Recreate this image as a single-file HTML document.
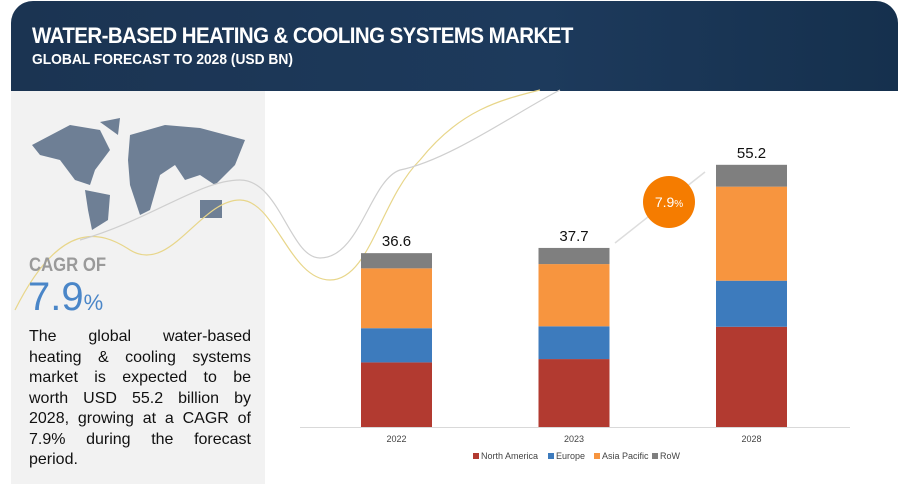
<!DOCTYPE html>
<html><head><meta charset="utf-8"><style>
body{margin:0;width:900px;height:484px;background:#fff;font-family:"Liberation Sans",sans-serif;position:relative;overflow:hidden}
#hdr{position:absolute;left:11px;top:1px;width:887px;height:90px;background:linear-gradient(90deg,#1b3452,#1d3a5c 60%,#15304d);border-radius:22px 22px 0 0}
#t1{position:absolute;left:21px;top:22px;color:#fff;font-weight:bold;font-size:22px;letter-spacing:-0.6px;transform:scaleX(0.93);transform-origin:left}
#t2{position:absolute;left:21px;top:50px;color:#fff;font-weight:bold;font-size:15px;transform:scaleX(0.92);transform-origin:left}
#left{position:absolute;left:11px;top:91px;width:254px;height:393px;background:#f2f2f2}
#cagr{position:absolute;left:29px;top:255px;color:#9a9a9a;font-size:19px;font-weight:bold;transform:scaleX(0.88);transform-origin:left}
#cv{position:absolute;left:28px;top:275px;color:#4a86c8;font-size:40px}
#cv span{font-size:22px}
#desc{position:absolute;left:29px;top:327px;width:222px;font-size:16px;line-height:20.5px;color:#111}
#desc div{text-align:justify;text-align-last:justify;white-space:nowrap;overflow:visible}
#desc div.l{text-align-last:left}
</style></head><body>
<div id="hdr">
<div id="t1">WATER-BASED HEATING &amp; COOLING SYSTEMS MARKET</div>
<div id="t2">GLOBAL FORECAST TO 2028 (USD BN)</div>
</div>
<div id="left"></div>
<svg style="position:absolute;left:0;top:0" width="900" height="484">
<path d="M32 145 L70 125 L100 130 L110 150 L95 170 L90 185 L75 180 L60 160 L40 155Z M85 190 L110 195 L108 220 L92 230 L88 210Z M100 122 L120 118 L118 135 Z M130 135 L165 125 L200 128 L245 140 L235 165 L215 185 L200 175 L185 180 L175 165 L160 175 L150 210 L140 215 L130 185 L128 160Z M200 200 L222 200 L222 218 L200 218Z" fill="#6e7f95"/>
<path d="M15 310 C60 220 100 230 130 250 C170 275 200 200 240 200 C275 200 290 280 330 280 C370 280 380 200 420 160 C460 110 500 100 540 90" stroke="#e8d68a" stroke-width="1.2" fill="none"/>
<path d="M80 240 C150 220 200 180 240 180 C280 180 290 258 320 258 C360 258 370 180 400 170 C450 160 520 110 560 90" stroke="#cfcfcf" stroke-width="1.2" fill="none"/>
</svg>
<div id="cagr">CAGR OF</div>
<div id="cv">7.9<span>%</span></div>
<div id="desc">
<div>The global water-based</div>
<div>heating &amp; cooling systems</div>
<div>market is expected to be</div>
<div>worth USD 55.2 billion by</div>
<div>2028, growing at a CAGR of</div>
<div>7.9% during the forecast</div>
<div class="l">period.</div>
</div>
<svg id="chart" style="position:absolute;left:0;top:0" width="900" height="484"></svg>
<script>
const categories=["2022","2023","2028"];
const northAmerica=[13.6,14.3,21.1];
const europe=[7.2,6.9,9.7];
const asiaPacific=[12.6,13.1,19.8];
const row=[3.2,3.4,4.6];
const totals=["36.6","37.7","55.2"];
const seriesNames=["North America","Europe","Asia Pacific","RoW"];
const colors=["#b23a30","#3d7bbd","#f7953f","#7f7f7f"];
const series=[northAmerica,europe,asiaPacific,row];
const svg=document.getElementById('chart');const NS="http://www.w3.org/2000/svg";
const baseY=427,scale=4.75,x0=361,step=177.5,bw=71;
const xs=i=>x0+i*step;const ys=v=>v*scale;
function mk(t,a){const e=document.createElementNS(NS,t);for(const k in a)e.setAttribute(k,a[k]);svg.appendChild(e);return e;}
categories.forEach((c,i)=>{let y=baseY;
series.forEach((s,j)=>{const h=ys(s[i]);y-=h;const r=mk('rect',{x:xs(i),y:y,width:bw,height:h,fill:colors[j]});

});
const t=mk('text',{x:xs(i)+bw/2,y:y-7,'text-anchor':'middle','font-size':'15','fill':'#111'});t.textContent=totals[i];


const l=mk('text',{x:xs(i)+bw/2,y:442,'text-anchor':'middle','font-size':'9','fill':'#444'});l.textContent=c;

});
const ax=mk('line',{x1:300,x2:850,y1:427.5,y2:427.5,stroke:'#d9d9d9'});


let lx=473;seriesNames.forEach((n,j)=>{const r=mk('rect',{x:lx,y:453,width:6,height:6,fill:colors[j]});


const t=mk('text',{x:lx+8,y:459,'font-size':'9','fill':'#444'});t.textContent=n;


lx+=[75,46,58,40][j];});
const ar=mk('path',{d:'M615 243 L705 172',stroke:'#ddd','stroke-width':'1.5',fill:'none'});


const ci=mk('circle',{cx:669,cy:202,r:26,fill:'#f57c00'});


const bt=mk('text',{x:669,y:207,'text-anchor':'middle','font-size':'14','fill':'#fff'});bt.innerHTML='7.9<tspan font-size="10">%</tspan>';


</script>
</body></html>
